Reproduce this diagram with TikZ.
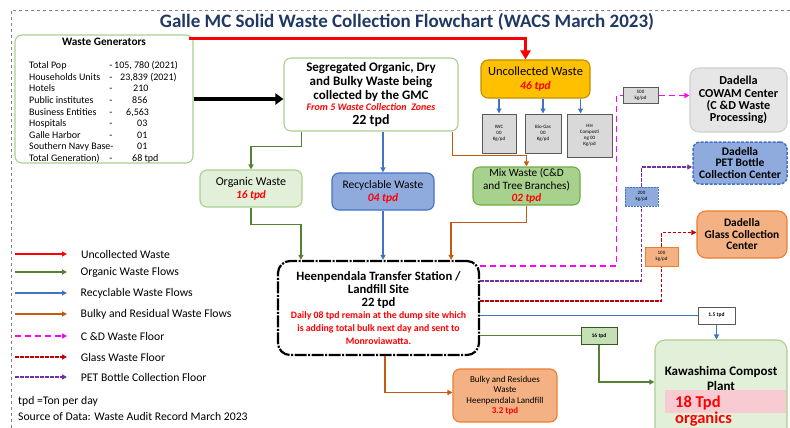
\documentclass[tikz,border=0pt]{standalone}
\usepackage{fontspec}
\setmainfont{Carlito}
\usetikzlibrary{arrows.meta,calc,positioning}
\definecolor{navy}{HTML}{1F3864}
\definecolor{flowred}{HTML}{FF0000}
\definecolor{flowgreen}{HTML}{548235}
\definecolor{flowblue}{HTML}{4472C4}
\definecolor{floworange}{HTML}{C55A11}
\definecolor{flowpink}{HTML}{FF00FF}
\definecolor{flowglass}{HTML}{C00000}
\definecolor{flowpet}{HTML}{7030A0}
\definecolor{leafedge}{HTML}{A9D18E}
\definecolor{leaffill}{HTML}{E2F0D9}
\definecolor{mixfill}{HTML}{A9D18E}
\definecolor{mixedge}{HTML}{70AD47}
\definecolor{bluefill}{HTML}{8FAADC}
\definecolor{blueedge}{HTML}{4472C4}
\definecolor{clayfill}{HTML}{F4B183}
\definecolor{clayedge}{HTML}{ED7D31}
\definecolor{gold}{HTML}{FFC000}
\definecolor{goldedge}{HTML}{BF9000}
\definecolor{stonefill}{HTML}{D9D9D9}
\definecolor{stoneedge}{HTML}{595959}
\definecolor{mist}{HTML}{E7E6E6}
\definecolor{mistedge}{HTML}{D0CECE}
\definecolor{blush}{HTML}{F8CBD3}
\definecolor{sprout}{HTML}{C5E0B4}
\definecolor{sproutedge}{HTML}{385723}
\newcommand\fsz[2]{\fontsize{#1}{#2}\selectfont}

\begin{document}
\begin{tikzpicture}[x=1pt,y=-1pt,>={Triangle[length=5pt,width=5pt]},
 every node/.style={inner sep=0pt,font=\fsz{10}{12}},
 box/.style={rounded corners=7pt,line width=1.1pt,align=center},
 leafbox/.style={box,draw=leafedge,fill=leaffill},
 tagbox/.style={draw=stoneedge,line width=1pt,align=center,font=\fsz{5}{6}},
 flow/.style={line width=1.3pt},
 redflow/.style={flow,flowred,line width=2pt},
 greenflow/.style={flow,flowgreen},
 blueflow/.style={flow,flowblue},
 orangeflow/.style={flow,floworange},
 pinkflow/.style={flow,flowpink,line width=1.8pt,dash pattern=on 6pt off 4pt},
 glassflow/.style={flow,flowglass,line width=1.8pt,dash pattern=on 3.5pt off 1.5pt},
 petflow/.style={flow,flowpet,line width=1.8pt,dash pattern=on 3.5pt off 1.5pt}]
\useasboundingbox (0,0) rectangle (790,428);
\clip (0,0) rectangle (790,428);
\draw[gray,dashed] (11,428) -- (11,10) -- (790,10);
\node[font=\fsz{19}{21}\bfseries,text=navy] (title) at (407,22) {Galle MC Solid Waste Collection Flowchart (WACS March 2023)};

\node[leafbox,fill=white,minimum width=178pt,minimum height=128pt] (gen) at (104,99) {};
\node[font=\fsz{11.3}{13}\bfseries] (gentitle) at (104,42) {Waste Generators};
\foreach \lbl/\dsh/\val/\vx [count=\i] in {
 Total Pop/-/{105, 780 (2021)}/114,
 Households Units/-/{23,839 (2021)}/120,
 Hotels/-/210/133,
 Public institutes/-/856/132,
 Business Entities/-/{6,563}/126,
 Hospitals/-/03/137,
 Galle Harbor/-/01/137,
 Southern Navy Base-//01/137,
 Total Generation)/-/68 tpd/132}{
 \node[anchor=base west,font=\fsz{10}{11}] (gl\i) at (29,{57.5+11.5*\i}) {\lbl};
 \node[anchor=base,font=\fsz{10}{11}] (gd\i) at (111,{57.5+11.5*\i}) {\dsh};
 \node[anchor=base west,font=\fsz{10}{11}] (gv\i) at (\vx,{57.5+11.5*\i}) {\val};
}

\node[leafbox,fill=white,minimum width=174pt,minimum height=73pt,font=\fsz{13}{14}\bfseries] (seg) at (371,94.5)
 {Segregated Organic, Dry\\ and Bulky Waste being\\ collected by the GMC\\[-3pt]
  {\fsz{10}{11}\itshape\color{flowred}From 5 Waste Collection\ \ Zones}\\
  {\fsz{14}{12}\bfseries 22 tpd}};
\node[box,draw=goldedge,fill=gold,minimum width=109pt,minimum height=38pt,font=\fsz{12.5}{14}] (unc) at (535.5,79)
 {Uncollected Waste\\ \textcolor{flowred}{\fsz{11.6}{14}\bfseries\itshape 46 tpd}};
\node[tagbox,fill=stonefill,minimum width=34pt,minimum height=39pt] (iwc) at (499,133.5) {IWC\\00\\Kg/pd};
\node[tagbox,fill=stonefill,minimum width=36pt,minimum height=39pt] (bio) at (543,133.5) {Bio-Gas\\00\\Kg/pd};
\node[tagbox,fill=stonefill,minimum width=45pt,minimum height=43pt] (hh) at (589.5,135.5) {HH\\Composti\\ng 00\\Kg/pd};

\node[leafbox,minimum width=102pt,minimum height=37pt,font=\fsz{12}{13}] (org) at (251,188.5)
 {Organic Waste\\ \textcolor{flowred}{\fsz{11.3}{13}\bfseries\itshape 16 tpd}};
\node[box,draw=blueedge,fill=bluefill,minimum width=102pt,minimum height=37pt,font=\fsz{11.5}{13}] (rec) at (383,191.5)
 {Recyclable Waste\\ \textcolor{flowred}{\bfseries\itshape 04 tpd}};
\node[box,draw=mixedge,fill=mixfill,minimum width=107pt,minimum height=38pt,font=\fsz{11.2}{12.5}] (mix) at (526.5,186)
 {Mix Waste (C\&D\\ and Tree Branches)\\ \textcolor{flowred}{\bfseries\itshape 02 tpd}};

\node[box,rounded corners=12pt,draw=black,line width=2.2pt,dash pattern=on 12pt off 1.5pt on 2pt off 1.5pt,
 fill=white,minimum width=201pt,minimum height=94pt,font=\fsz{12.7}{13}\bfseries] (hub) at (378.5,308)
 {Heenpendala Transfer Station /\\ Landfill Site\\ 22 tpd\\[-1pt]
  {\fsz{9.8}{10.5}\bfseries\color{flowred}Daily 08 tpd remain at the dump site which}\\
  {\fsz{9.8}{10.5}\bfseries\color{flowred}is adding total bulk next day and sent to}\\
  {\fsz{9.8}{10.5}\bfseries\color{flowred}Monroviawatta.}};
\node[box,draw=clayedge,fill=clayfill,minimum width=104pt,minimum height=53pt,font=\fsz{9}{10.5}] (bulky) at (505,395.5)
 {Bulky and Residues\\ Waste\\ Heenpendala Landfill\\ \textcolor{flowred}{\bfseries 3.2 tpd}};

\node[box,rounded corners=9pt,draw=mistedge,fill=mist,minimum width=97pt,minimum height=64pt,font=\fsz{12.2}{12.3}\bfseries] (cowam) at (738.5,100)
 {Dadella\\ COWAM Center\\ (C \&D Waste\\ Processing)};
\node[box,draw=blueedge,fill=bluefill,line width=1.5pt,dash pattern=on 3pt off 1.5pt,minimum width=94pt,minimum height=42pt,font=\fsz{11.5}{11.8}\bfseries] (pet) at (740,163)
 {Dadella\\ PET Bottle\\ Collection Center};
\node[box,draw=clayedge,fill=clayfill,rounded corners=9pt,minimum width=90pt,minimum height=47pt,font=\fsz{11.4}{11.5}\bfseries] (glass) at (742,234.5)
 {Dadella\\ Glass Collection\\ Center};
\node[leafbox,rounded corners=10pt,minimum width=132pt,minimum height=100pt] (kawa) at (721,390) {};
\node[font=\fsz{13}{14}\bfseries] (kawaname) at (721,372) {Kawashima Compost};
\node[font=\fsz{13}{14}\bfseries] (kawaplant) at (721,386) {Plant};
\node[fill=blush,minimum width=121pt,minimum height=23pt] (kawaband) at (725.5,401.5) {};
\node[anchor=base west,text=flowred,font=\fsz{16.5}{18}\bfseries] (kawaqty) at (675,407) {18 Tpd};
\node[anchor=base west,text=flowred,font=\fsz{16.5}{18}\bfseries] (kawaorg) at (675,423.5) {organics};

\node[tagbox,fill=stonefill,minimum width=35pt,minimum height=15pt] (t500) at (640.5,95.5) {500\\kg/pd};
\node[tagbox,draw=blueedge,fill=bluefill,dash pattern=on 2pt off 1pt,minimum width=33pt,minimum height=19pt] (t200) at (641.5,196.5) {200\\kg/pd};
\node[tagbox,draw=clayedge,fill=clayfill,minimum width=33pt,minimum height=19pt] (t100) at (661.5,256.5) {100\\kg/pd};
\node[tagbox,fill=white,minimum width=37pt,minimum height=17pt,font=\fsz{5.5}{6}\bfseries] (t15) at (716.5,315.5) {1.5 tpd};
\node[tagbox,draw=sproutedge,fill=sprout,minimum width=36pt,minimum height=17pt,font=\fsz{5.5}{6}\bfseries] (t16) at (599,335.5) {16 tpd};

\coordinate (redtail) at (189,39);
\draw[redflow,line width=3pt,-{Triangle[length=9pt,width=10pt]}] (redtail) -| ([xshift=-10pt]unc.north);
\draw[line width=3.5pt,-{Triangle[length=8pt,width=11pt]}] (gen.east) -- (gen.east -| seg.west);
\draw[blueflow,->] (unc.south -| iwc.north) -- (iwc.north);
\draw[blueflow,->] (unc.south -| bio.north) -- (bio.north);
\draw[blueflow,->] ([xshift=-9pt]hh.north |- unc.south) -- ([xshift=-9pt]hh.north);
\draw[greenflow,->] ($(seg.south west)+(18,0)$) -- ++(0,15) -| (org.north);
\draw[blueflow,->] (seg.south -| rec.north) -- (rec.north);
\draw[orangeflow,->] ($(seg.south east)+(-6,0)$) -- ++(0,24) -| (mix.north);
\draw[greenflow,->] (org.south) -- ++(0,17) -| ($(hub.north west)+(24,0)$);
\draw[blueflow,->] (rec.south) -- (rec.south |- hub.north);
\draw[orangeflow,->] (mix.south) -- ++(0,17) -| ($(hub.north east)+(-29,0)$);

\draw[pinkflow] ($(hub.north east)+(0,6)$) -| ($(t500.west)+(-6,0)$) -- (t500.west);
\draw[pinkflow,->] (t500.east) -- (t500.east -| cowam.west);
\draw[petflow] ($(hub.north east)+(0,21)$) -| (t200.south);
\draw[petflow,->] (t200.north) |- ([yshift=-4pt]pet.west);
\draw[glassflow] ($(hub.north east)+(0,41)$) -| (t100.south);
\draw[glassflow,->] (t100.north) |- ([yshift=2pt]glass.west);
\draw[blueflow,line width=1pt] (hub.east |- t15.west) -- (t15.west);
\draw[blueflow,->] (t15.south) -- (t15.south |- kawa.north);
\draw[greenflow,line width=1pt] (hub.east |- t16.west) -- (t16.west);
\draw[greenflow,->] (t16.south) |- ([yshift=8pt]kawa.west);
\draw[orangeflow,->] ($(hub.south west)+(108,0)$) |- ([yshift=3pt]bulky.west);

\foreach \fl/\txt/\yy in {redflow/Uncollected Waste/254, greenflow/Organic Waste Flows/272,
 blueflow/Recyclable Waste Flows/293, orangeflow/Bulky and Residual Waste Flows/314,
 pinkflow/C \&D Waste Floor/336, glassflow/Glass Waste Floor/357, petflow/PET Bottle Collection Floor/377}{
 \coordinate (key\yy) at (15,\yy);
 \draw[\fl,->] (key\yy) -- ++(52,0) node[anchor=west,xshift=13pt,text=black,font=\fsz{11.7}{13}] (lab\yy) {\txt};
}
\node[anchor=base west,font=\fsz{11.7}{13}] (unit) at (18,404) {tpd =Ton per day};
\node[anchor=base west,font=\fsz{11.7}{13}] (source) at (18,420) {Source of Data: Waste Audit Record March 2023};
\end{tikzpicture}
\end{document}
